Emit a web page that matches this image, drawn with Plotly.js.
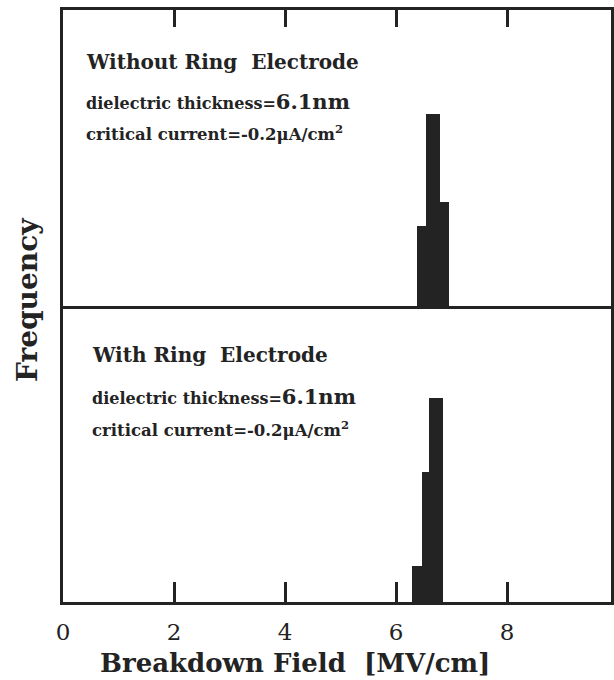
<!DOCTYPE html>
<html>
<head>
<meta charset="utf-8">
<script src="https://cdn.plot.ly/plotly-3.0.1.min.js"></script>
<style>html,body{margin:0;padding:0;background:#fff;}#chart{width:614px;height:680px;}</style>
</head>
<body>
<div id="chart"></div>
<script>
// Top panel: Without Ring Electrode (bin edges in MV/cm, relative frequency)
var withoutEdges = [6.37, 6.54, 6.79, 6.95];
var withoutFreq = [27, 65, 35];
// Bottom panel: With Ring Electrode
var withEdges = [6.29, 6.46, 6.60, 6.85];
var withFreq = [12, 44, 69];
var tickVals = [0, 2, 4, 6, 8];
var tickText = ['0', '2', '4', '6', '8'];

function centers(e){var c=[];for(var i=0;i<e.length-1;i++)c.push((e[i]+e[i+1])/2);return c;}
function widths(e){var w=[];for(var i=0;i<e.length-1;i++)w.push(e[i+1]-e[i]);return w;}

var ink = '#232323';
var serif = 'DejaVu Serif, Liberation Serif, serif';

var traces = [
  {type:'bar', x:centers(withoutEdges), y:withoutFreq, width:widths(withoutEdges),
   xaxis:'x2', yaxis:'y2', marker:{color:ink, line:{width:0}}, hoverinfo:'skip'},
  {type:'bar', x:centers(withEdges), y:withFreq, width:widths(withEdges),
   xaxis:'x', yaxis:'y', marker:{color:ink, line:{width:0}}, hoverinfo:'skip'}
];

function f(s){return {family: serif, color: ink, size: s};}
var layout = {
  width:614, height:680,
  margin:{l:63, r:3, t:10, b:78},
  paper_bgcolor:'#fff', plot_bgcolor:'#fff',
  showlegend:false, bargap:0,
  xaxis:{domain:[0,1], range:[0,9.87], anchor:'y', tickvals:tickVals, ticktext:tickText,
         ticks:'inside', ticklen:20, tickwidth:3, tickcolor:ink,
         showline:true, linewidth:3, linecolor:ink, mirror:false, showgrid:false, zeroline:false,
         tickfont:{family:serif, size:23, color:ink}, ticklabelstandoff:7},
  xaxis2:{domain:[0,1], matches:'x', range:[0,9.87], anchor:'y2', side:'top',
          tickvals:[2,4,6,8], ticks:'inside', ticklen:17, tickwidth:3, tickcolor:ink,
          showticklabels:false, showline:true, linewidth:3, linecolor:ink, mirror:true,
          showgrid:false, zeroline:false},
  yaxis:{domain:[0,0.5], range:[0,100], showticklabels:false, ticks:'', showgrid:false, zeroline:false,
         showline:true, linewidth:3, linecolor:ink, mirror:true},
  yaxis2:{domain:[0.5,1], range:[0,100], showticklabels:false, ticks:'', showgrid:false, zeroline:false,
          showline:true, linewidth:3, linecolor:ink, mirror:true},
  annotations:[
    {xref:'x2', yref:'y2', x:0.38, y:82.5, xanchor:'left', yanchor:'middle', showarrow:false,
     text:'<b>Without Ring  Electrode</b>', font:f(20)},
    {xref:'x2', yref:'y2', x:0.38, y:69.2, xanchor:'left', yanchor:'middle', showarrow:false,
     text:'<b>dielectric thickness=<span style="font-size:21px">6.1nm</span></b>', font:f(16)},
    {xref:'x2', yref:'y2', x:0.38, y:58.5, xanchor:'left', yanchor:'middle', showarrow:false,
     text:'<b>critical current=-0.2μA/cm<sup>2</sup></b>', font:f(16.5)},
    {xref:'x', yref:'y', x:0.48, y:83.3, xanchor:'left', yanchor:'middle', showarrow:false,
     text:'<b>With Ring  Electrode</b>', font:f(20)},
    {xref:'x', yref:'y', x:0.48, y:69.5, xanchor:'left', yanchor:'middle', showarrow:false,
     text:'<b>dielectric thickness=<span style="font-size:21px">6.1nm</span></b>', font:f(16)},
    {xref:'x', yref:'y', x:0.48, y:58.3, xanchor:'left', yanchor:'middle', showarrow:false,
     text:'<b>critical current=-0.2μA/cm<sup>2</sup></b>', font:f(16.5)},
    {xref:'paper', yref:'paper', x:-0.066, y:0.51, xanchor:'center', yanchor:'middle', showarrow:false,
     textangle:-90, text:'<b>Frequency</b>', font:f(28)},
    {xref:'paper', yref:'paper', x:0.423, y:-0.103, xanchor:'center', yanchor:'middle', showarrow:false,
     text:'<b>Breakdown Field  [MV/cm]</b>', font:f(26)}
  ]
};

Plotly.newPlot('chart', traces, layout, {displayModeBar:false, staticPlot:true});
</script>
</body>
</html>
